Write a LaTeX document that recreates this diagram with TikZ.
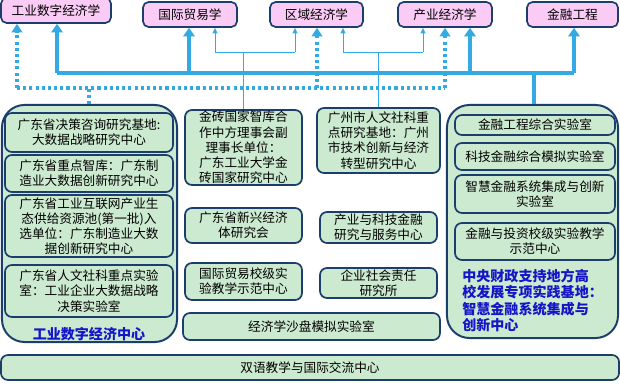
\documentclass[tikz,border=0pt]{standalone}
\usepackage{fontspec}
\setmainfont{Noto Sans CJK SC}
\usetikzlibrary{arrows.meta}
\definecolor{boxpink}{RGB}{250,204,245}
\definecolor{boxgreen}{RGB}{204,234,208}
\definecolor{boxnavy}{RGB}{28,62,108}
\definecolor{linkblue}{RGB}{52,170,226}
\definecolor{labelblue}{RGB}{20,20,200}

\begin{document}
\begin{tikzpicture}[
    x=0.025cm, y=-0.025cm,
    subj/.style={rectangle, rounded corners=4pt, draw=boxnavy, line width=1.2pt,
                 fill=boxpink, inner sep=0pt, font=\fontsize{9}{10.8}\selectfont},
    unit/.style={rectangle, rounded corners=5pt, draw=boxnavy, line width=1.2pt,
                 fill=boxgreen, inner sep=0pt, align=center, font=\fontsize{9}{10.8}\selectfont},
    group/.style={rectangle, rounded corners=16pt, draw=boxnavy, line width=1.4pt, fill=boxgreen},
    grouplabel/.style={text=labelblue, inner sep=0pt, font=\fontsize{10}{11.8}\selectfont\bfseries},
    busline/.style={linkblue, line width=2.5pt},
    busarrow/.style={busline, -{Triangle[width=8pt,length=6pt]}},
    thinline/.style={linkblue, line width=0.7pt},
    thinarrow/.style={thinline, -{Triangle[width=3.5pt,length=4pt]}},
    dotline/.style={linkblue, line width=2.4pt, dash pattern=on 2.2pt off 2.2pt},
    dotarrow/.style={dotline, -{Triangle[width=7.5pt,length=6pt]}}
]
\useasboundingbox (0,0) rectangle (620,385);

% Disciplines
\node[subj, minimum width=2.75cm, minimum height=0.625cm] (ind) at (56,10.5) {工业数字经济学};
\node[subj, minimum width=2.35cm, minimum height=0.625cm] (trade) at (190,14.5) {国际贸易学};
\node[subj, minimum width=2.325cm, minimum height=0.625cm] (region) at (316.5,14.5) {区域经济学};
\node[subj, minimum width=2.35cm, minimum height=0.625cm] (indus) at (445,14.5) {产业经济学};
\node[subj, minimum width=2.275cm, minimum height=0.625cm] (fin) at (572.5,14.5) {金融工程};

% Left group
\node[group, minimum width=4.375cm, minimum height=5.925cm] (lgrp) at (89.5,223.5) {};
\node[unit, minimum width=4.2cm, minimum height=0.975cm] (lb1) at (89,132.5)
    {广东省决策咨询研究基地:\\大数据战略研究中心};
\node[unit, minimum width=4.2cm, minimum height=0.925cm] (lb2) at (89,173.5)
    {广东省重点智库：广东制\\造业大数据创新研究中心};
\node[unit, minimum width=4.2cm, minimum height=1.55cm] (lb3) at (89,226)
    {广东省工业互联网产业生\\态供给资源池(第一批)入\\选单位：广东制造业大数\\据创新研究中心};
\node[unit, minimum width=4.2cm, minimum height=1.3cm] (lb4) at (89,291)
    {广东省人文社科重点实验\\室：工业企业大数据战略\\决策实验室};
\node[grouplabel] (llab) at (89,334) {工业数字经济中心};

% Middle units
\node[unit, minimum width=2.925cm, minimum height=1.875cm] (m1) at (243.5,147.5)
    {金砖国家智库合\\作中方理事会副\\理事长单位：\\广东工业大学金\\砖国家研究中心};
\node[unit, minimum width=3.075cm, minimum height=1.625cm] (m2) at (378.5,140.5)
    {广州市人文社科重\\点研究基地：广州\\市技术创新与经济\\转型研究中心};
\node[unit, minimum width=2.925cm, minimum height=0.875cm] (m3) at (243.5,225.5)
    {广东省新兴经济\\体研究会};
\node[unit, minimum width=2.925cm, minimum height=0.775cm] (m4) at (378.5,227.5)
    {产业与科技金融\\研究与服务中心};
\node[unit, minimum width=2.925cm, minimum height=0.925cm] (m5) at (243.5,281.5)
    {国际贸易校级实\\验教学示范中心};
\node[unit, minimum width=2.925cm, minimum height=0.75cm] (m6) at (378.5,283)
    {企业社会责任\\研究所};
\node[unit, minimum width=6.425cm, minimum height=0.675cm] (m7) at (311.5,326.5)
    {经济学沙盘模拟实验室};

% Right group
\node[group, minimum width=4.275cm, minimum height=5.825cm] (rgrp) at (532.5,221.5) {};
\node[unit, minimum width=4cm, minimum height=0.5cm] (rb1) at (535,125) {金融工程综合实验室};
\node[unit, minimum width=4cm, minimum height=0.675cm] (rb2) at (535,156.5) {科技金融综合模拟实验室};
\node[unit, minimum width=4cm, minimum height=0.95cm] (rb3) at (535,194)
    {智慧金融系统集成与创新\\实验室};
\node[unit, minimum width=4cm, minimum height=0.925cm] (rb4) at (535,241.5)
    {金融与投资校级实验教学\\示范中心};
\node[grouplabel, anchor=west, align=left] (rlab) at (462,300.5)
    {中央财政支持地方高\\校发展专项实践基地：\\智慧金融系统集成与\\创新中心};

% Bottom
\node[unit, minimum width=15.45cm, minimum height=0.625cm] (bil) at (310,367.5)
    {双语教学与国际交流中心};

% Thick links
\coordinate (busR) at (534,73);
\coordinate (busL) at (57,73);
\coordinate (busE) at (574,73);
\draw[busline] (rgrp.north -| busR) -- (busR);
\draw[busline] (busL) -- (busE);
\foreach \x/\n in {57/ind, 189/trade, 470/indus, 574/fin} {
    \coordinate (c) at (\x,73);
    \draw[busarrow] (c) -- (c |- \n.south);
}

% Thin links
\coordinate (jA) at (243.5,52);
\coordinate (jA1) at (215,52);
\coordinate (jA2) at (295,52);
\draw[thinline] (m1.north) -- (jA);
\draw[thinline] (jA1) -- (jA2);
\draw[thinarrow] (jA1) -- (jA1 |- trade.south);
\draw[thinarrow] (jA2) -- (jA2 |- region.south);
\coordinate (jB) at (378.5,52);
\coordinate (jB1) at (343,52);
\coordinate (jB2) at (423,52);
\draw[thinline] (m2.north) -- (jB);
\draw[thinline] (jB1) -- (jB2);
\draw[thinarrow] (jB1) -- (jB1 |- region.south);
\draw[thinarrow] (jB2) -- (jB2 |- indus.south);

% Dotted links
\coordinate (dA) at (89,88);
\coordinate (dL) at (17,88);
\coordinate (dE) at (445,88);
\draw[dotline] (lgrp.north -| dA) -- (dA);
\draw[dotline] (dL) -- (dE);
\foreach \x/\n in {17/ind, 317/region, 445/indus} {
    \coordinate (c) at (\x,88);
    \draw[dotarrow] (c) -- (c |- \n.south);
}
\end{tikzpicture}
\end{document}
